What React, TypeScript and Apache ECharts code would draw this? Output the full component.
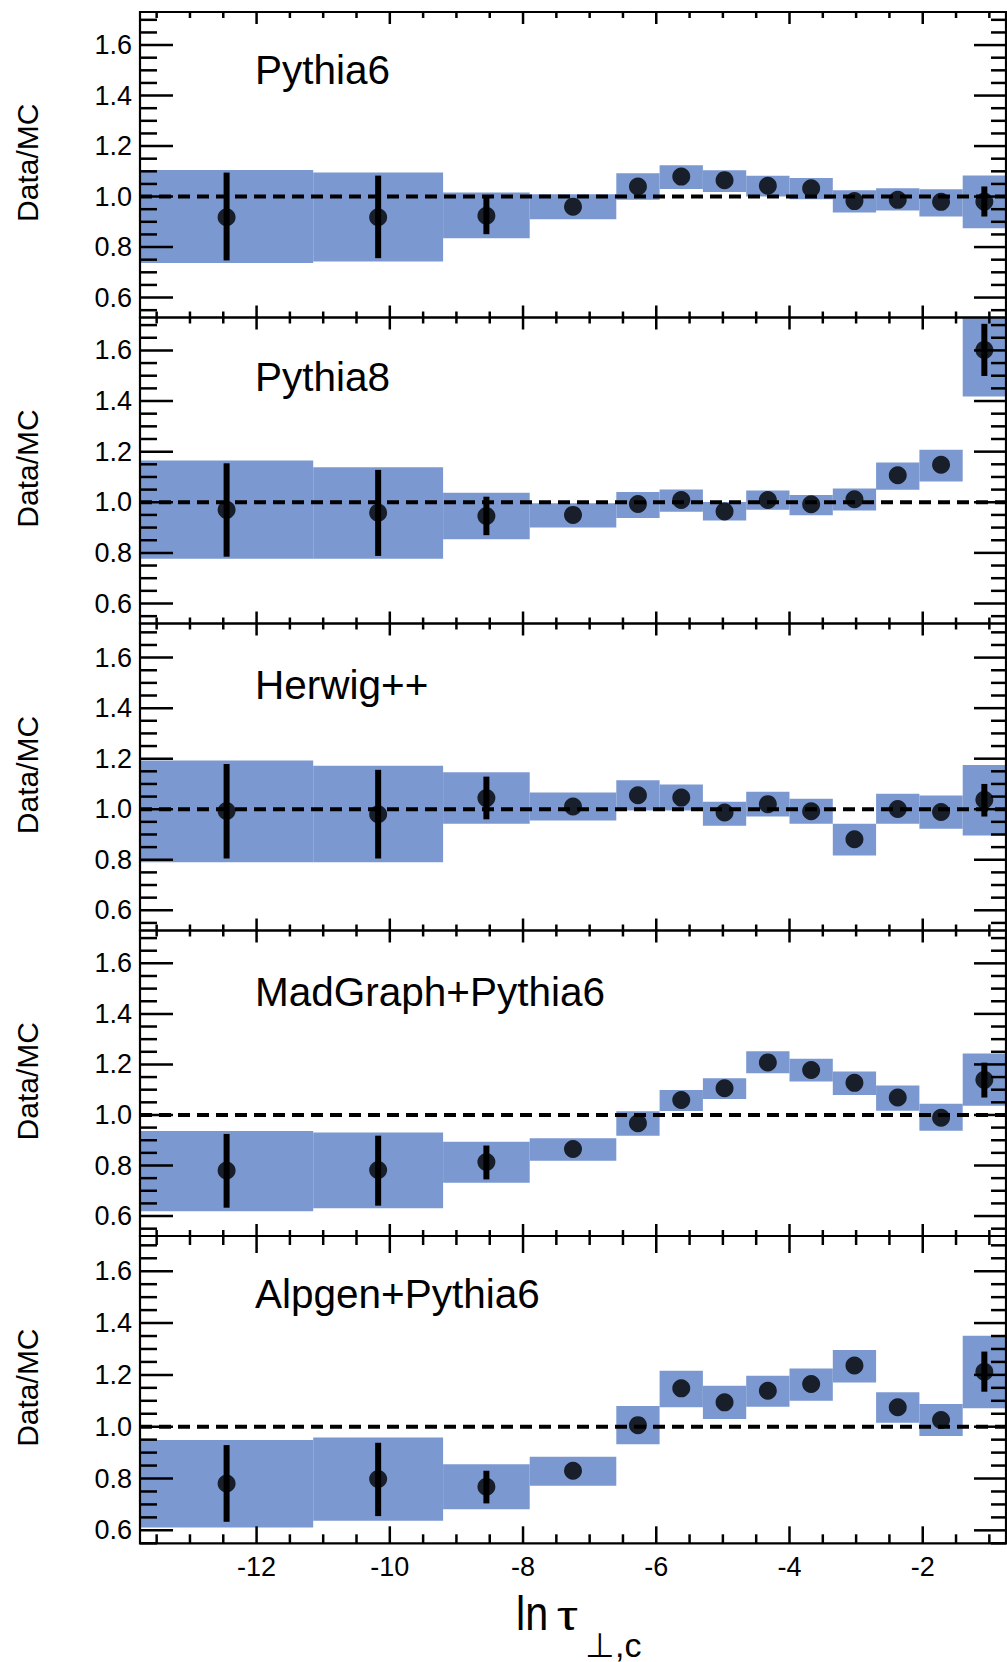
import React, { useEffect, useRef } from "react";
import * as echarts from "echarts";

// ---------------- data ----------------
const PANEL_NAMES = ["Pythia6", "Pythia8", "Herwig++", "MadGraph+Pythia6", "Alpgen+Pythia6"];
const Y_TITLE = "Data/MC";

const BIN_EDGES = [-13.75, -11.15, -9.2, -7.9, -6.6, -5.95, -5.3, -4.65, -4.0, -3.35, -2.7, -2.05, -1.4, -0.75];
const BIN_CENTERS = [-12.45, -10.175, -8.55, -7.25, -6.275, -5.625, -4.975, -4.325, -3.675, -3.025, -2.375, -1.725, -1.075];
const REFERENCE_LEVEL = 1.0;

// Pythia6
const P6_VALUES = [0.918, 0.918, 0.924, 0.960, 1.040, 1.079, 1.065, 1.043, 1.033, 0.982, 0.987, 0.979, 0.980];
const P6_BAND_LO = [0.737, 0.743, 0.835, 0.910, 0.987, 1.030, 1.018, 1.000, 0.989, 0.937, 0.945, 0.921, 0.874];
const P6_BAND_HI = [1.105, 1.095, 1.016, 1.009, 1.092, 1.124, 1.104, 1.082, 1.074, 1.025, 1.033, 1.029, 1.083];
const P6_ERR_LO = [0.747, 0.756, 0.851, null, null, null, null, null, null, null, null, null, 0.921];
const P6_ERR_HI = [1.095, 1.083, 1.000, null, null, null, null, null, null, null, null, null, 1.040];

// Pythia8
const P8_VALUES = [0.970, 0.959, 0.946, 0.950, 0.993, 1.009, 0.964, 1.009, 0.992, 1.012, 1.107, 1.148, 1.602];
const P8_BAND_LO = [0.777, 0.777, 0.854, 0.900, 0.938, 0.963, 0.928, 0.970, 0.949, 0.967, 1.049, 1.082, 1.418];
const P8_BAND_HI = [1.165, 1.138, 1.038, 0.996, 1.041, 1.050, 1.001, 1.046, 1.029, 1.054, 1.157, 1.207, 1.800];
const P8_ERR_LO = [0.785, 0.788, 0.870, null, null, null, null, null, null, null, null, null, 1.499];
const P8_ERR_HI = [1.154, 1.128, 1.022, null, null, null, null, null, null, null, null, null, 1.705];

// Herwig++
const HW_VALUES = [0.993, 0.980, 1.044, 1.011, 1.055, 1.046, 0.987, 1.020, 0.992, 0.881, 1.001, 0.989, 1.037];
const HW_BAND_LO = [0.790, 0.790, 0.942, 0.955, 0.995, 0.995, 0.935, 0.971, 0.942, 0.817, 0.942, 0.923, 0.896];
const HW_BAND_HI = [1.193, 1.172, 1.146, 1.066, 1.115, 1.098, 1.030, 1.069, 1.041, 0.942, 1.061, 1.054, 1.175];
const HW_ERR_LO = [0.805, 0.805, 0.960, null, null, null, null, null, null, null, null, null, 0.971];
const HW_ERR_HI = [1.179, 1.156, 1.129, null, null, null, null, null, null, null, null, null, 1.100];

// MadGraph+Pythia6
const MG_VALUES = [0.780, 0.782, 0.814, 0.865, 0.967, 1.059, 1.106, 1.208, 1.178, 1.127, 1.069, 0.989, 1.139];
const MG_BAND_LO = [0.619, 0.631, 0.732, 0.819, 0.918, 1.016, 1.063, 1.165, 1.132, 1.079, 1.017, 0.938, 1.036];
const MG_BAND_HI = [0.937, 0.931, 0.894, 0.908, 1.015, 1.099, 1.145, 1.252, 1.222, 1.172, 1.117, 1.044, 1.243];
const MG_ERR_LO = [0.633, 0.641, 0.745, null, null, null, null, null, null, null, null, null, 1.069];
const MG_ERR_HI = [0.925, 0.918, 0.879, null, null, null, null, null, null, null, null, null, 1.207];

// Alpgen+Pythia6
const AP_VALUES = [0.781, 0.798, 0.768, 0.830, 1.006, 1.148, 1.094, 1.139, 1.165, 1.236, 1.075, 1.026, 1.212];
const AP_BAND_LO = [0.611, 0.637, 0.681, 0.772, 0.932, 1.075, 1.030, 1.077, 1.100, 1.171, 1.015, 0.964, 1.071];
const AP_BAND_HI = [0.949, 0.958, 0.855, 0.884, 1.080, 1.216, 1.158, 1.197, 1.225, 1.296, 1.133, 1.088, 1.351];
const AP_ERR_LO = [0.633, 0.655, 0.704, null, null, null, null, null, null, null, null, null, 1.135];
const AP_ERR_HI = [0.929, 0.938, 0.830, null, null, null, null, null, null, null, null, null, 1.290];

// tick values
const X_MAJOR_TICKS = [-12, -10, -8, -6, -4, -2];
const X_MINOR_TICKS = [-13.5, -13, -12.5, -11.5, -11, -10.5, -9.5, -9, -8.5, -7.5, -7, -6.5, -5.5, -5, -4.5, -3.5, -3, -2.5, -1.5, -1];
const Y_MAJOR_TICKS = [0.6, 0.8, 1.0, 1.2, 1.4, 1.6];
const Y_MINOR_TICKS = [0.55, 0.65, 0.7, 0.75, 0.85, 0.9, 0.95, 1.05, 1.1, 1.15, 1.25, 1.3, 1.35, 1.45, 1.5, 1.55, 1.65, 1.7];
const Y_RANGES = [
  [0.521, 1.731],
  [0.521, 1.730],
  [0.520, 1.735],
  [0.521, 1.730],
  [0.55, 1.736],
];

const PANELS = [
  { values: P6_VALUES, bandLo: P6_BAND_LO, bandHi: P6_BAND_HI, errLo: P6_ERR_LO, errHi: P6_ERR_HI },
  { values: P8_VALUES, bandLo: P8_BAND_LO, bandHi: P8_BAND_HI, errLo: P8_ERR_LO, errHi: P8_ERR_HI },
  { values: HW_VALUES, bandLo: HW_BAND_LO, bandHi: HW_BAND_HI, errLo: HW_ERR_LO, errHi: HW_ERR_HI },
  { values: MG_VALUES, bandLo: MG_BAND_LO, bandHi: MG_BAND_HI, errLo: MG_ERR_LO, errHi: MG_ERR_HI },
  { values: AP_VALUES, bandLo: AP_BAND_LO, bandHi: AP_BAND_HI, errLo: AP_ERR_LO, errHi: AP_ERR_HI },
];

// ---------------- layout / style ----------------
const W = 1007;
const H = 1662;
const FONT = "'Liberation Sans', Arial, Helvetica, sans-serif";
const BAND_COLOR = "#7b99d0";
const GRID_LEFT = 140;
const GRID_RIGHT_EDGE = 1006;
const GRID_TOPS = [12, 317.5, 623.5, 930.5, 1236];
const GRID_BOTTOMS = [317.5, 623.5, 930.5, 1236, 1543.3];
const X_TICK_LEN = [[12, 6], [12, 6], [12, 6], [12, 6], [17, 9]];
const Y_TICK_LEN_LEFT = [33, 17];
const Y_TICK_LEN_RIGHT = [32, 15];
const NAME_Y = [70, 376.5, 685.3, 991.7, 1293.7];

function buildOption() {
  const grids: any[] = [];
  const xAxes: any[] = [];
  const yAxes: any[] = [];
  const series: any[] = [];
  const graphics: any[] = [];
  const xMin = BIN_EDGES[0];
  const xMax = BIN_EDGES[BIN_EDGES.length - 1];

  PANELS.forEach((p, i) => {
    const top = GRID_TOPS[i];
    const height = GRID_BOTTOMS[i] - GRID_TOPS[i];
    grids.push({ left: GRID_LEFT, width: GRID_RIGHT_EDGE - GRID_LEFT, top, height, containLabel: false });
    const isLast = i === PANELS.length - 1;
    xAxes.push({
      type: "value",
      gridIndex: i,
      min: xMin,
      max: xMax,
      axisLine: { show: false },
      axisTick: { show: false },
      splitLine: { show: false },
      axisLabel: isLast
        ? {
            show: true,
            customValues: X_MAJOR_TICKS,
            formatter: (v: number) => String(v),
            color: "#000",
            fontSize: 27,
            fontFamily: FONT,
            margin: 10,
          }
        : { show: false },
    });
    yAxes.push({
      type: "value",
      gridIndex: i,
      min: Y_RANGES[i][0],
      max: Y_RANGES[i][1],
      axisLine: { show: false },
      axisTick: { show: false },
      splitLine: { show: false },
      axisLabel: {
        show: true,
        customValues: Y_MAJOR_TICKS,
        formatter: (v: number) => v.toFixed(1),
        color: "#000",
        fontSize: 27,
        fontFamily: FONT,
        margin: 8,
      },
    });

    // systematic bands
    const bandData = p.values.map((_, j) => [BIN_EDGES[j], BIN_EDGES[j + 1], p.bandLo[j], p.bandHi[j]]);
    series.push({
      type: "custom",
      xAxisIndex: i,
      yAxisIndex: i,
      z: 1,
      silent: true,
      encode: { x: [0, 1], y: [2, 3] },
      data: bandData,
      renderItem: (params: any, api: any) => {
        const a = api.coord([api.value(0), api.value(3)]);
        const b = api.coord([api.value(1), api.value(2)]);
        const cs = params.coordSys;
        const r = echarts.graphic.clipRectByRect(
          { x: a[0], y: a[1], width: b[0] - a[0], height: b[1] - a[1] },
          { x: cs.x, y: cs.y, width: cs.width, height: cs.height }
        );
        if (!r) return null;
        return { type: "rect", shape: r, style: { fill: BAND_COLOR } };
      },
    });

    // dashed reference line
    series.push({
      type: "line",
      xAxisIndex: i,
      yAxisIndex: i,
      z: 2,
      silent: true,
      symbol: "none",
      data: [
        [xMin, REFERENCE_LEVEL],
        [xMax, REFERENCE_LEVEL],
      ],
      lineStyle: { color: "#000", width: 4, type: [12, 7] },
    });

    // error bars
    const errData: any[] = [];
    p.values.forEach((_, j) => {
      if (p.errLo[j] != null && p.errHi[j] != null) errData.push([BIN_CENTERS[j], p.errLo[j], p.errHi[j]]);
    });
    series.push({
      type: "custom",
      xAxisIndex: i,
      yAxisIndex: i,
      z: 3,
      silent: true,
      encode: { x: 0, y: [1, 2] },
      data: errData,
      renderItem: (params: any, api: any) => {
        const a = api.coord([api.value(0), api.value(2)]);
        const b = api.coord([api.value(0), api.value(1)]);
        return {
          type: "line",
          shape: { x1: a[0], y1: a[1], x2: b[0], y2: b[1] },
          style: { stroke: "#000", lineWidth: 6 },
        };
      },
    });

    // data points
    series.push({
      type: "scatter",
      xAxisIndex: i,
      yAxisIndex: i,
      z: 4,
      silent: true,
      symbol: "circle",
      symbolSize: 18,
      itemStyle: { color: "#000" },
      data: p.values.map((v, j) => [BIN_CENTERS[j], v]),
    });

    // frame and ticks
    const [xMaj, xMin2] = X_TICK_LEN[i];
    const tickData: any[] = [];
    tickData.push([xMin, REFERENCE_LEVEL, 4]);
    X_MAJOR_TICKS.forEach((v) => tickData.push([v, REFERENCE_LEVEL, 0]));
    X_MINOR_TICKS.forEach((v) => tickData.push([v, REFERENCE_LEVEL, 1]));
    Y_MAJOR_TICKS.forEach((v) => tickData.push([xMin, v, 2]));
    Y_MINOR_TICKS.forEach((v) => {
      if (v >= Y_RANGES[i][0] - 1e-9 && v <= Y_RANGES[i][1]) tickData.push([xMin, v, 3]);
    });
    series.push({
      type: "custom",
      xAxisIndex: i,
      yAxisIndex: i,
      z: 10,
      silent: true,
      encode: { x: 0, y: 1 },
      data: tickData,
      renderItem: (params: any, api: any) => {
        const cs = params.coordSys;
        const kind = api.value(2);
        const p0 = api.coord([api.value(0), api.value(1)]);
        const st = { stroke: "#000", lineWidth: 2.5 };
        const left = cs.x;
        const right = cs.x + cs.width;
        const topY = cs.y;
        const botY = cs.y + cs.height;
        if (kind === 4) {
          return {
            type: "rect",
            shape: { x: left, y: topY, width: cs.width, height: cs.height },
            style: { fill: "none", stroke: "#000", lineWidth: 2.2 },
          };
        }
        if (kind === 0 || kind === 1) {
          const L = kind === 0 ? xMaj : xMin2;
          return {
            type: "group",
            children: [
              { type: "line", shape: { x1: p0[0], y1: botY, x2: p0[0], y2: botY - L }, style: st },
              { type: "line", shape: { x1: p0[0], y1: topY, x2: p0[0], y2: topY + L }, style: st },
            ],
          };
        }
        const li = kind === 2 ? 0 : 1;
        return {
          type: "group",
          children: [
            { type: "line", shape: { x1: left, y1: p0[1], x2: left + Y_TICK_LEN_LEFT[li], y2: p0[1] }, style: st },
            { type: "line", shape: { x1: right, y1: p0[1], x2: right - Y_TICK_LEN_RIGHT[li], y2: p0[1] }, style: st },
          ],
        };
      },
    });

    // panel label
    graphics.push({
      type: "text",
      x: 255,
      y: NAME_Y[i],
      style: {
        text: PANEL_NAMES[i],
        fill: "#000",
        font: `40.5px ${FONT}`,
        align: "left",
        verticalAlign: "middle",
      },
    });
    // y axis title
    graphics.push({
      type: "text",
      x: 27.7,
      y: (GRID_TOPS[i] + GRID_BOTTOMS[i]) / 2 - 2,
      rotation: Math.PI / 2,
      style: {
        text: Y_TITLE,
        fill: "#000",
        font: `30px ${FONT}`,
        align: "center",
        verticalAlign: "middle",
      },
    });
  });

  // x axis title: ln τ_{⊥,c}
  graphics.push({
    type: "text",
    x: 516,
    y: 1613,
    scaleX: 0.86,
    style: { text: "ln", fill: "#000", font: `48px ${FONT}`, align: "left", verticalAlign: "middle" },
  });
  graphics.push({
    type: "text",
    x: 557,
    y: 1616,
    scaleX: 1.3,
    style: { text: "τ", fill: "#000", font: `40px ${FONT}`, align: "left", verticalAlign: "middle" },
  });
  graphics.push({
    type: "text",
    x: 585,
    y: 1644.5,
    style: {
      text: "⊥,c",
      fill: "#000",
      font: `34px ${FONT}`,
      lineHeight: 34,
      align: "left",
      verticalAlign: "middle",
    },
  });

  return {
    animation: false,
    backgroundColor: "#fff",
    grid: grids,
    xAxis: xAxes,
    yAxis: yAxes,
    series,
    graphic: { elements: graphics },
  };
}

export default function App() {
  const ref = useRef<HTMLDivElement>(null);
  useEffect(() => {
    document.body.style.margin = "0";
    if (!ref.current) return;
    const chart = echarts.init(ref.current, undefined, { renderer: "svg" });
    chart.setOption(buildOption() as any);
    return () => chart.dispose();
  }, []);
  return <div ref={ref} style={{ width: W, height: H }} />;
}
